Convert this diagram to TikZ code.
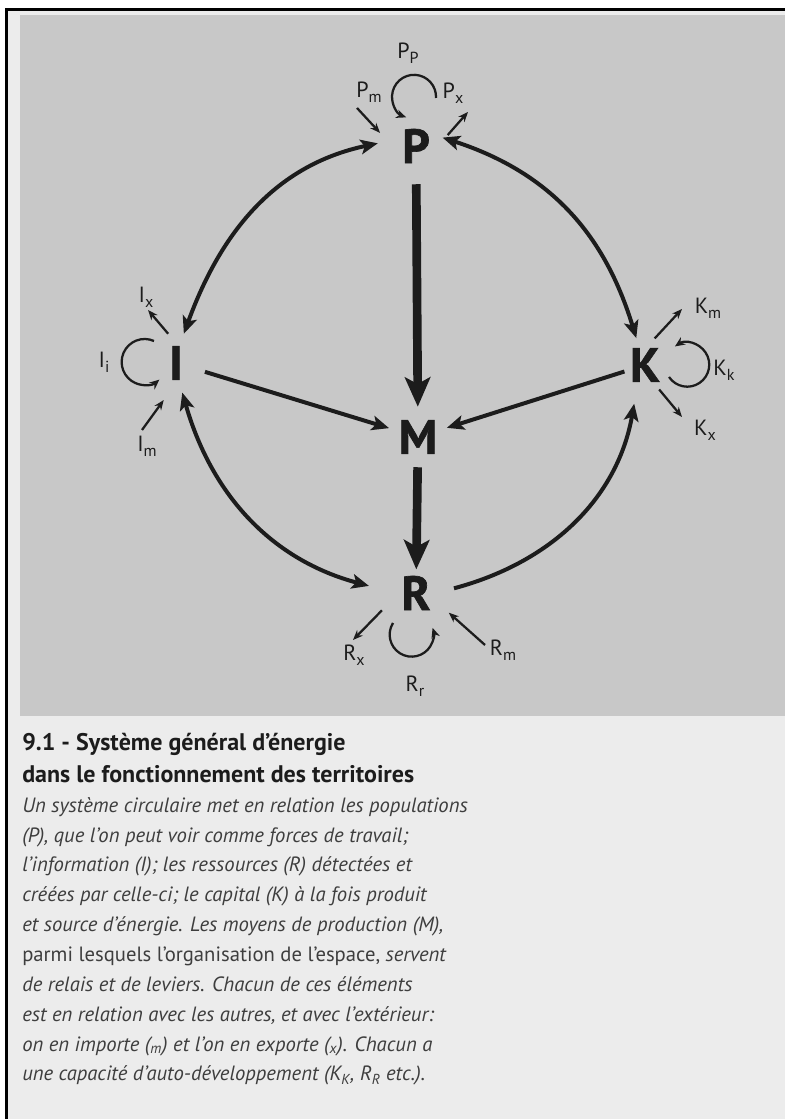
\documentclass[tikz,border=0pt]{standalone}
\usepackage{fontspec}
\setmainfont{PT Sans}
\newfontfamily\heavyfont[BoldFeatures={FakeBold=1.4}]{PT Sans}
\usepackage{tikz}
\usetikzlibrary{arrows.meta,calc}
\definecolor{panelgray}{RGB}{200,200,200}
\definecolor{pagegray}{RGB}{236,236,236}
\definecolor{inkdark}{RGB}{28,28,28}
\definecolor{textgray}{RGB}{62,62,62}
\tikzset{
  big/.style={circle, inner sep=0pt, font=\fontsize{36}{36}\heavyfont\bfseries, text=inkdark},
  lab/.style={inner sep=1pt, font=\fontsize{16.5}{16.5}\selectfont, text=inkdark},
  heavy/.style={-{Stealth[length=22pt, width=19pt, inset=5pt]}, line width=6.5pt, draw=inkdark},
  flux/.style={-{Stealth[length=13pt, width=11pt, inset=3pt]}, line width=3pt, draw=inkdark},
  ext/.style={-{Stealth[length=7.5pt, width=6pt]}, line width=1.7pt, draw=inkdark},
  self/.style={-{Stealth[length=7.5pt, width=6.5pt]}, line width=1.7pt, draw=inkdark},
}
\newcommand{\sublab}[2]{#1\raisebox{-0.45ex}{\fontsize{12}{12}\selectfont #2}}

\begin{document}
\begin{tikzpicture}[x=0.75pt, y=0.75pt]
    \useasboundingbox (0,0) rectangle (785,1119);
    % page, frame and grey panel
    \fill[white] (0,0) rectangle (785,1119);
    \fill[pagegray] (6,0) rectangle (785,1109);
    \fill[panelgray] (20,403) rectangle (785,1104);
    \draw[line width=2.25pt] (6,0) -- (6,1109) -- (785,1109);

    \node[big, minimum size=57pt] (P) at (416,973) {P};
    \node[big, minimum size=45pt] (I) at (176,756) {I};
    \node[big, minimum size=42pt] (K) at (645,754) {K};
    \node[big, minimum size=45pt] (M) at (418,682) {M};
    \node[big, minimum size=57pt] (R) at (416,526) {R};

    \draw[heavy] (P) -- (M);
    \draw[heavy, shorten >=-11pt] (M) -- (R);
    \draw[flux] (I) -- (M);
    \draw[flux, shorten <=-5pt] (K) -- (M);

    % the outer ring
    \draw[flux,{Stealth[length=13pt, width=11pt, inset=3pt]}-{Stealth[length=13pt, width=11pt, inset=3pt]}] (P.176) to[out=192, in=70] (I.75);
    \draw[flux,{Stealth[length=13pt, width=11pt, inset=3pt]}-{Stealth[length=13pt, width=11pt, inset=3pt]}, shorten <=-9pt] (P.7) to[out=-18, in=107] (K.108);
    \draw[flux,{Stealth[length=13pt, width=11pt, inset=3pt]}-{Stealth[length=13pt, width=11pt, inset=3pt]}, shorten >=7pt] (I.282) to[out=-74, in=165] (R.173);
    \draw[flux, shorten >=9pt] (R.7) to[out=15, in=260] (K.252);

    % imports and exports
    \coordinate (pm0) at (357,1011);
    \coordinate (px1) at (468,1007);
    \coordinate (ix1) at (148,809);
    \coordinate (im0) at (142,689);
    \coordinate (km1) at (682,810);
    \coordinate (kx1) at (682,702);
    \coordinate (rx1) at (353,479);
    \coordinate (rm0) at (485,474);
    \draw[ext] (pm0) -- (P.160);
    \draw[ext, shorten <=-4pt] (P.23) -- (px1);
    \draw[ext] (I.105) -- (ix1);
    \draw[ext, shorten >=7pt] (im0) -- (I.257);
    \draw[ext] (K.70) -- (km1);
    \draw[ext] (K.300) -- (kx1);
    \draw[ext] (R.207) -- (rx1);
    \draw[ext] (rm0) -- (R.329);

    % self development
    \draw[self] ($(P)+(20,48)$) arc[start angle=-3, end angle=249, radius=16.5pt];
    \draw[self] ($(I)+(-22,22)$) arc[start angle=66, end angle=310, radius=17.25pt];
    \draw[self] ($(K)+(24,-12)$) arc[start angle=-146, end angle=124, radius=16.5pt];
    \draw[self] ($(R)+(-23,-30)$) arc[start angle=148, end angle=378, radius=16.5pt];

    \node[lab] (Pp) at (408,1066) {\sublab{P}{P}};
    \node[lab] (Pm) at (369,1027) {\sublab{P}{m}};
    \node[lab] (Px) at (453,1026) {\sublab{P}{x}};
    \node[lab] (Ix) at (146,822) {\sublab{I}{x}};
    \node[lab] (Ii) at (104,757) {\sublab{I}{i}};
    \node[lab] (Im) at (147,673) {\sublab{I}{m}};
    \node[lab] (Km) at (708,811) {\sublab{K}{m}};
    \node[lab] (Kk) at (724,749) {\sublab{K}{k}};
    \node[lab] (Kx) at (705,689) {\sublab{K}{x}};
    \node[lab] (Rx) at (354,464) {\sublab{R}{x}};
    \node[lab] (Rr) at (415,433) {\sublab{R}{r}};
    \node[lab] (Rm) at (503,469) {\sublab{R}{m}};

    % caption
    \node[anchor=north west, inner sep=0pt, align=left, text=inkdark,
          font=\fontsize{18}{24}\selectfont\bfseries] (title) at (22,386)
      {9.1 - Système général d’énergie\\dans le fonctionnement des territoires};
    \node[anchor=north west, inner sep=0pt, align=left, text=textgray,
          font=\fontsize{15.5}{22.4}\selectfont\itshape] (legend) at (22,322)
      {Un système circulaire met en relation les populations\\
       (P), que l’on peut voir comme forces de travail;\\
       l’information (I); les ressources (R) détectées et\\
       créées par celle-ci; le capital (K) à la fois produit\\
       et source d’énergie. Les moyens de production (M),\\
       {\upshape parmi lesquels l’organisation de l’espace,} servent\\
       de relais et de leviers. Chacun de ces éléments\\
       est en relation avec les autres, et avec l’extérieur:\\
       on en importe (\textsubscript{m}) et l’on en exporte (\textsubscript{x}). Chacun a\\
       une capacité d’auto-développement (K\textsubscript{K}, R\textsubscript{R} etc.).};
  \end{tikzpicture}
\end{document}
